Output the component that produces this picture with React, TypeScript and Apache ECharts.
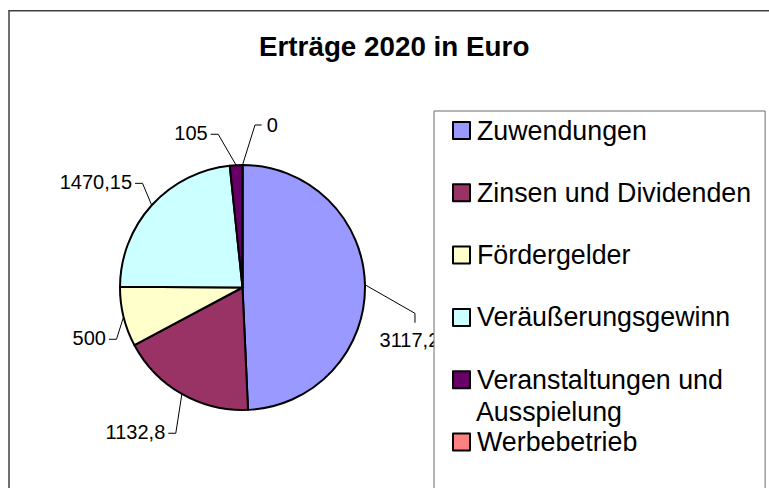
import React, { useEffect, useRef } from 'react';
import * as echarts from 'echarts';

const chartTitle = 'Erträge 2020 in Euro';
const categories = [
  'Zuwendungen',
  'Zinsen und Dividenden',
  'Fördergelder',
  'Veräußerungsgewinn',
  'Veranstaltungen und Ausspielung',
  'Werbebetrieb',
];
const values = [3117.25, 1132.8, 500, 1470.15, 105, 0];
const colors = ['#9999FF', '#993366', '#FFFFCC', '#CCFFFF', '#660066', '#FF8080'];
// legend entry that wraps onto a second line (first line, continuation)
const wrappedLegend = { name: 'Veranstaltungen und Ausspielung', first: 'Veranstaltungen und', second: 'Ausspielung' };

// Leader-line end offsets relative to the slice's outer edge point (style only)
const labelPlacement = [
  { dx: 50, dy: 38, side: 'below' },
  { dx: -13.6, dy: 39.3, side: 'left' },
  { dx: -14.6, dy: 22.4, side: 'left' },
  { dx: -16.7, dy: -21.9, side: 'left' },
  { dx: -25.4, dy: -30.9, side: 'left' },
  { dx: 19.2, dy: -40, side: 'right' },
];

const FONT = "'Liberation Sans', Arial, sans-serif";
const LEGEND_FONT_SIZE = 26.8;

export default function App() {
  const ref = useRef<HTMLDivElement>(null);
  useEffect(() => {
    if (!ref.current) return;
    const chart = echarts.init(ref.current, undefined, { renderer: 'svg' });
    chart.setOption({
      animation: false,
      backgroundColor: '#fff',
      color: colors,
      title: {
        text: chartTitle,
        left: 259,
        top: 32,
        padding: 0,
        textStyle: { fontSize: 27.8, fontWeight: 'bold', color: '#000', fontFamily: FONT },
      },
      graphic: [
        {
          type: 'rect',
          silent: true,
          z: 0,
          shape: { x: 9, y: 10.75, width: 900, height: 900 },
          style: { fill: 'none', stroke: '#404040', lineWidth: 1.5 },
        },
        {
          type: 'text',
          silent: true,
          z: 10,
          x: 476,
          y: 412,
          style: {
            text: wrappedLegend.second,
            fontSize: LEGEND_FONT_SIZE,
            fontFamily: FONT,
            fill: '#000',
            verticalAlign: 'middle',
            align: 'left',
          },
        },
      ],
      legend: {
        orient: 'vertical',
        left: 434,
        top: 111,
        height: 420,
        padding: [3, 14, 50, 18],
        itemWidth: 17,
        itemHeight: 17,
        itemGap: 29.3,
        icon: 'rect',
        selectedMode: false,
        backgroundColor: '#fff',
        borderColor: '#6a6a6a',
        borderWidth: 1,
        itemStyle: { borderColor: '#000', borderWidth: 2 },
        formatter: (name: string) => (name === wrappedLegend.name ? wrappedLegend.first : name),
        textStyle: {
          fontSize: LEGEND_FONT_SIZE,
          fontFamily: FONT,
          color: '#000',
          lineHeight: 33,
          padding: [0, 0, 0, 2],
        },
        data: categories,
      },
      series: [
        {
          type: 'pie',
          center: [242.5, 287.5],
          radius: 122.5,
          startAngle: 90,
          clockwise: true,
          avoidLabelOverlap: false,
          silent: true,
          emphasis: { disabled: true },
          itemStyle: { borderColor: '#000', borderWidth: 2 },
          label: {
            show: true,
            position: 'outside',
            fontSize: 20,
            fontFamily: FONT,
            color: '#000',
            formatter: (p: any) => String(p.value).replace('.', ','),
          },
          labelLine: { show: true, smooth: false, lineStyle: { color: '#000', width: 1 } },
          labelLayout: (params: any) => {
            const p = labelPlacement[params.dataIndex];
            const pts = params.labelLinePoints;
            if (!p || !pts || !pts[0]) return {};
            const ex = pts[0][0];
            const ey = pts[0][1];
            const endX = ex + p.dx;
            const endY = ey + p.dy;
            if (p.side === 'below') {
              return {
                x: endX,
                y: endY + 17.6,
                align: 'center',
                verticalAlign: 'middle',
                labelLinePoints: [[ex, ey], [endX, endY - 9.4], [endX, endY]],
              };
            }
            if (p.side === 'left') {
              return {
                x: endX - 3,
                y: endY - 1,
                align: 'right',
                verticalAlign: 'middle',
                labelLinePoints: [[ex, ey], [endX + 7.5, endY], [endX, endY]],
              };
            }
            return {
              x: endX + 5,
              y: endY,
              align: 'left',
              verticalAlign: 'middle',
              labelLinePoints: [[ex, ey], [endX - 6.7, endY], [endX, endY]],
            };
          },
          data: categories.map((name, i) => ({ name, value: values[i] })),
        },
      ],
    });
    return () => chart.dispose();
  }, []);
  return (
    <div
      ref={ref}
      style={{ position: 'fixed', left: 0, top: 0, width: 769, height: 488 }}
    />
  );
}
